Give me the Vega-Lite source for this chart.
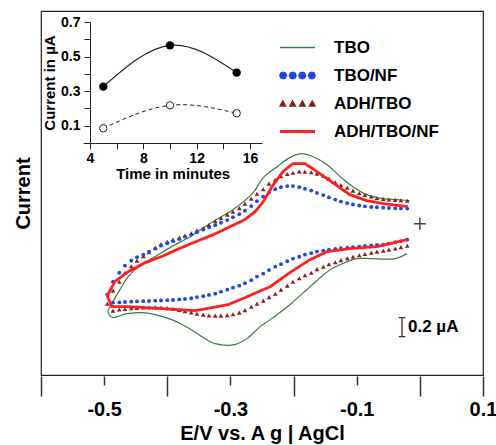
{
"$schema": "https://vega.github.io/schema/vega-lite/v6.json",
"width": 442, "height": 364,
"autosize": "none",
"padding": {"left": 41, "top": 11, "right": 13, "bottom": 70},
"background": "white",
"config": {"font": "Liberation Sans", "view": {"stroke": "#222", "strokeWidth": 1.2}, "axis": {"labelColor": "black", "titleColor": "black", "labelFont": "Liberation Sans", "titleFont": "Liberation Sans"}, "legend": {"labelFont": "Liberation Sans"}},
"datasets": {
"lines": [
{"s":"TBO","k":0,"E":-0.016,"I":0.240},{"s":"TBO","k":1,"E":-0.036,"I":0.251},{"s":"TBO","k":2,"E":-0.058,"I":0.261},{"s":"TBO","k":3,"E":-0.084,"I":0.303},{"s":"TBO","k":4,"E":-0.106,"I":0.386},{"s":"TBO","k":5,"E":-0.126,"I":0.491},{"s":"TBO","k":6,"E":-0.147,"I":0.616},{"s":"TBO","k":7,"E":-0.169,"I":0.699},{"s":"TBO","k":8,"E":-0.187,"I":0.731},{"s":"TBO","k":9,"E":-0.206,"I":0.689},{"s":"TBO","k":10,"E":-0.226,"I":0.595},{"s":"TBO","k":11,"E":-0.248,"I":0.480},{"s":"TBO","k":12,"E":-0.264,"I":0.324},{"s":"TBO","k":13,"E":-0.296,"I":0.146},{"s":"TBO","k":14,"E":-0.328,"I":0.021},{"s":"TBO","k":15,"E":-0.364,"I":-0.136},{"s":"TBO","k":16,"E":-0.393,"I":-0.240},{"s":"TBO","k":17,"E":-0.419,"I":-0.344},{"s":"TBO","k":18,"E":-0.443,"I":-0.438},{"s":"TBO","k":19,"E":-0.462,"I":-0.553},{"s":"TBO","k":20,"E":-0.475,"I":-0.689},{"s":"TBO","k":21,"E":-0.486,"I":-0.814},{"s":"TBO","k":22,"E":-0.494,"I":-0.919},{"s":"TBO","k":23,"E":-0.491,"I":-0.960},{"s":"TBO","k":24,"E":-0.486,"I":-0.981},{"s":"TBO","k":25,"E":-0.464,"I":-0.940},{"s":"TBO","k":26,"E":-0.440,"I":-0.929},{"s":"TBO","k":27,"E":-0.419,"I":-0.950},{"s":"TBO","k":28,"E":-0.393,"I":-1.002},{"s":"TBO","k":29,"E":-0.367,"I":-1.086},{"s":"TBO","k":30,"E":-0.345,"I":-1.180},{"s":"TBO","k":31,"E":-0.324,"I":-1.253},{"s":"TBO","k":32,"E":-0.293,"I":-1.263},{"s":"TBO","k":33,"E":-0.272,"I":-1.190},{"s":"TBO","k":34,"E":-0.253,"I":-1.075},{"s":"TBO","k":35,"E":-0.237,"I":-1.002},{"s":"TBO","k":36,"E":-0.206,"I":-0.846},{"s":"TBO","k":37,"E":-0.174,"I":-0.658},{"s":"TBO","k":38,"E":-0.142,"I":-0.480},{"s":"TBO","k":39,"E":-0.115,"I":-0.397},{"s":"TBO","k":40,"E":-0.100,"I":-0.365},{"s":"TBO","k":41,"E":-0.079,"I":-0.365},{"s":"TBO","k":42,"E":-0.039,"I":-0.365},{"s":"TBO","k":43,"E":-0.020,"I":-0.313},
{"s":"ADH/TBO/NF","k":0,"E":-0.019,"I":0.177},{"s":"ADH/TBO/NF","k":1,"E":-0.058,"I":0.209},{"s":"ADH/TBO/NF","k":2,"E":-0.084,"I":0.240},{"s":"ADH/TBO/NF","k":3,"E":-0.111,"I":0.303},{"s":"ADH/TBO/NF","k":4,"E":-0.138,"I":0.428},{"s":"ADH/TBO/NF","k":5,"E":-0.163,"I":0.543},{"s":"ADH/TBO/NF","k":6,"E":-0.182,"I":0.626},{"s":"ADH/TBO/NF","k":7,"E":-0.201,"I":0.626},{"s":"ADH/TBO/NF","k":8,"E":-0.217,"I":0.543},{"s":"ADH/TBO/NF","k":9,"E":-0.233,"I":0.397},{"s":"ADH/TBO/NF","k":10,"E":-0.248,"I":0.230},{"s":"ADH/TBO/NF","k":11,"E":-0.261,"I":0.125},{"s":"ADH/TBO/NF","k":12,"E":-0.277,"I":0.042},{"s":"ADH/TBO/NF","k":13,"E":-0.304,"I":-0.042},{"s":"ADH/TBO/NF","k":14,"E":-0.329,"I":-0.120},{"s":"ADH/TBO/NF","k":15,"E":-0.356,"I":-0.192},{"s":"ADH/TBO/NF","k":16,"E":-0.383,"I":-0.266},{"s":"ADH/TBO/NF","k":17,"E":-0.408,"I":-0.340},{"s":"ADH/TBO/NF","k":18,"E":-0.435,"I":-0.407},{"s":"ADH/TBO/NF","k":19,"E":-0.462,"I":-0.501},{"s":"ADH/TBO/NF","k":20,"E":-0.483,"I":-0.606},{"s":"ADH/TBO/NF","k":21,"E":-0.495,"I":-0.752},{"s":"ADH/TBO/NF","k":22,"E":-0.488,"I":-0.867},{"s":"ADH/TBO/NF","k":23,"E":-0.462,"I":-0.867},{"s":"ADH/TBO/NF","k":24,"E":-0.435,"I":-0.877},{"s":"ADH/TBO/NF","k":25,"E":-0.408,"I":-0.887},{"s":"ADH/TBO/NF","k":26,"E":-0.383,"I":-0.898},{"s":"ADH/TBO/NF","k":27,"E":-0.356,"I":-0.908},{"s":"ADH/TBO/NF","k":28,"E":-0.329,"I":-0.877},{"s":"ADH/TBO/NF","k":29,"E":-0.304,"I":-0.846},{"s":"ADH/TBO/NF","k":30,"E":-0.277,"I":-0.773},{"s":"ADH/TBO/NF","k":31,"E":-0.256,"I":-0.710},{"s":"ADH/TBO/NF","k":32,"E":-0.237,"I":-0.658},{"s":"ADH/TBO/NF","k":33,"E":-0.206,"I":-0.512},{"s":"ADH/TBO/NF","k":34,"E":-0.174,"I":-0.376},{"s":"ADH/TBO/NF","k":35,"E":-0.147,"I":-0.292},{"s":"ADH/TBO/NF","k":36,"E":-0.111,"I":-0.261},{"s":"ADH/TBO/NF","k":37,"E":-0.068,"I":-0.240},{"s":"ADH/TBO/NF","k":38,"E":-0.020,"I":-0.167}
],
"dots": [
{"s":"TBO/NF","E":-0.495,"I":-0.741},{"s":"TBO/NF","E":-0.486,"I":-0.606},{"s":"TBO/NF","E":-0.476,"I":-0.512},{"s":"TBO/NF","E":-0.467,"I":-0.438},{"s":"TBO/NF","E":-0.457,"I":-0.386},{"s":"TBO/NF","E":-0.448,"I":-0.350},{"s":"TBO/NF","E":-0.438,"I":-0.324},{"s":"TBO/NF","E":-0.429,"I":-0.292},{"s":"TBO/NF","E":-0.419,"I":-0.261},{"s":"TBO/NF","E":-0.410,"I":-0.230},{"s":"TBO/NF","E":-0.400,"I":-0.204},{"s":"TBO/NF","E":-0.391,"I":-0.183},{"s":"TBO/NF","E":-0.381,"I":-0.162},{"s":"TBO/NF","E":-0.372,"I":-0.136},{"s":"TBO/NF","E":-0.362,"I":-0.115},{"s":"TBO/NF","E":-0.353,"I":-0.089},{"s":"TBO/NF","E":-0.343,"I":-0.063},{"s":"TBO/NF","E":-0.334,"I":-0.037},{"s":"TBO/NF","E":-0.324,"I":-0.016},{"s":"TBO/NF","E":-0.315,"I":0.010},{"s":"TBO/NF","E":-0.305,"I":0.037},{"s":"TBO/NF","E":-0.296,"I":0.068},{"s":"TBO/NF","E":-0.286,"I":0.099},{"s":"TBO/NF","E":-0.277,"I":0.136},{"s":"TBO/NF","E":-0.267,"I":0.183},{"s":"TBO/NF","E":-0.258,"I":0.235},{"s":"TBO/NF","E":-0.248,"I":0.282},{"s":"TBO/NF","E":-0.239,"I":0.324},{"s":"TBO/NF","E":-0.229,"I":0.360},{"s":"TBO/NF","E":-0.220,"I":0.381},{"s":"TBO/NF","E":-0.210,"I":0.392},{"s":"TBO/NF","E":-0.201,"I":0.392},{"s":"TBO/NF","E":-0.191,"I":0.381},{"s":"TBO/NF","E":-0.182,"I":0.365},{"s":"TBO/NF","E":-0.172,"I":0.345},{"s":"TBO/NF","E":-0.163,"I":0.321},{"s":"TBO/NF","E":-0.153,"I":0.298},{"s":"TBO/NF","E":-0.144,"I":0.274},{"s":"TBO/NF","E":-0.134,"I":0.251},{"s":"TBO/NF","E":-0.125,"I":0.230},{"s":"TBO/NF","E":-0.115,"I":0.214},{"s":"TBO/NF","E":-0.106,"I":0.200},{"s":"TBO/NF","E":-0.096,"I":0.190},{"s":"TBO/NF","E":-0.087,"I":0.181},{"s":"TBO/NF","E":-0.077,"I":0.174},{"s":"TBO/NF","E":-0.068,"I":0.171},{"s":"TBO/NF","E":-0.058,"I":0.167},{"s":"TBO/NF","E":-0.049,"I":0.164},{"s":"TBO/NF","E":-0.039,"I":0.161},{"s":"TBO/NF","E":-0.030,"I":0.159},{"s":"TBO/NF","E":-0.020,"I":0.157},
{"s":"TBO/NF","E":-0.486,"I":-0.825},{"s":"TBO/NF","E":-0.476,"I":-0.822},{"s":"TBO/NF","E":-0.467,"I":-0.818},{"s":"TBO/NF","E":-0.457,"I":-0.814},{"s":"TBO/NF","E":-0.448,"I":-0.812},{"s":"TBO/NF","E":-0.438,"I":-0.809},{"s":"TBO/NF","E":-0.429,"I":-0.807},{"s":"TBO/NF","E":-0.419,"I":-0.804},{"s":"TBO/NF","E":-0.410,"I":-0.802},{"s":"TBO/NF","E":-0.400,"I":-0.799},{"s":"TBO/NF","E":-0.391,"I":-0.797},{"s":"TBO/NF","E":-0.381,"I":-0.791},{"s":"TBO/NF","E":-0.372,"I":-0.786},{"s":"TBO/NF","E":-0.362,"I":-0.779},{"s":"TBO/NF","E":-0.353,"I":-0.767},{"s":"TBO/NF","E":-0.343,"I":-0.757},{"s":"TBO/NF","E":-0.334,"I":-0.744},{"s":"TBO/NF","E":-0.324,"I":-0.731},{"s":"TBO/NF","E":-0.315,"I":-0.710},{"s":"TBO/NF","E":-0.305,"I":-0.689},{"s":"TBO/NF","E":-0.296,"I":-0.668},{"s":"TBO/NF","E":-0.286,"I":-0.647},{"s":"TBO/NF","E":-0.277,"I":-0.621},{"s":"TBO/NF","E":-0.267,"I":-0.590},{"s":"TBO/NF","E":-0.258,"I":-0.553},{"s":"TBO/NF","E":-0.248,"I":-0.522},{"s":"TBO/NF","E":-0.239,"I":-0.485},{"s":"TBO/NF","E":-0.229,"I":-0.449},{"s":"TBO/NF","E":-0.220,"I":-0.423},{"s":"TBO/NF","E":-0.210,"I":-0.392},{"s":"TBO/NF","E":-0.201,"I":-0.365},{"s":"TBO/NF","E":-0.191,"I":-0.345},{"s":"TBO/NF","E":-0.182,"I":-0.324},{"s":"TBO/NF","E":-0.172,"I":-0.308},{"s":"TBO/NF","E":-0.163,"I":-0.292},{"s":"TBO/NF","E":-0.153,"I":-0.282},{"s":"TBO/NF","E":-0.144,"I":-0.271},{"s":"TBO/NF","E":-0.134,"I":-0.264},{"s":"TBO/NF","E":-0.125,"I":-0.256},{"s":"TBO/NF","E":-0.115,"I":-0.251},{"s":"TBO/NF","E":-0.106,"I":-0.245},{"s":"TBO/NF","E":-0.096,"I":-0.240},{"s":"TBO/NF","E":-0.087,"I":-0.233},{"s":"TBO/NF","E":-0.077,"I":-0.227},{"s":"TBO/NF","E":-0.068,"I":-0.222},{"s":"TBO/NF","E":-0.058,"I":-0.219},{"s":"TBO/NF","E":-0.049,"I":-0.209},{"s":"TBO/NF","E":-0.039,"I":-0.193},{"s":"TBO/NF","E":-0.030,"I":-0.183},{"s":"TBO/NF","E":-0.020,"I":-0.167}
],
"tri": [
{"s":"ADH/TBO","E":-0.495,"I":-0.835},{"s":"ADH/TBO","E":-0.486,"I":-0.699},{"s":"ADH/TBO","E":-0.476,"I":-0.606},{"s":"ADH/TBO","E":-0.467,"I":-0.512},{"s":"ADH/TBO","E":-0.457,"I":-0.444},{"s":"ADH/TBO","E":-0.448,"I":-0.386},{"s":"ADH/TBO","E":-0.438,"I":-0.339},{"s":"ADH/TBO","E":-0.429,"I":-0.298},{"s":"ADH/TBO","E":-0.419,"I":-0.251},{"s":"ADH/TBO","E":-0.410,"I":-0.214},{"s":"ADH/TBO","E":-0.400,"I":-0.188},{"s":"ADH/TBO","E":-0.391,"I":-0.167},{"s":"ADH/TBO","E":-0.381,"I":-0.146},{"s":"ADH/TBO","E":-0.372,"I":-0.125},{"s":"ADH/TBO","E":-0.362,"I":-0.101},{"s":"ADH/TBO","E":-0.353,"I":-0.073},{"s":"ADH/TBO","E":-0.343,"I":-0.047},{"s":"ADH/TBO","E":-0.334,"I":-0.014},{"s":"ADH/TBO","E":-0.324,"I":0.026},{"s":"ADH/TBO","E":-0.315,"I":0.057},{"s":"ADH/TBO","E":-0.305,"I":0.094},{"s":"ADH/TBO","E":-0.296,"I":0.125},{"s":"ADH/TBO","E":-0.286,"I":0.162},{"s":"ADH/TBO","E":-0.277,"I":0.209},{"s":"ADH/TBO","E":-0.267,"I":0.261},{"s":"ADH/TBO","E":-0.258,"I":0.313},{"s":"ADH/TBO","E":-0.248,"I":0.360},{"s":"ADH/TBO","E":-0.239,"I":0.418},{"s":"ADH/TBO","E":-0.229,"I":0.459},{"s":"ADH/TBO","E":-0.220,"I":0.494},{"s":"ADH/TBO","E":-0.210,"I":0.519},{"s":"ADH/TBO","E":-0.201,"I":0.532},{"s":"ADH/TBO","E":-0.191,"I":0.545},{"s":"ADH/TBO","E":-0.182,"I":0.543},{"s":"ADH/TBO","E":-0.172,"I":0.536},{"s":"ADH/TBO","E":-0.163,"I":0.522},{"s":"ADH/TBO","E":-0.153,"I":0.501},{"s":"ADH/TBO","E":-0.144,"I":0.470},{"s":"ADH/TBO","E":-0.134,"I":0.433},{"s":"ADH/TBO","E":-0.125,"I":0.402},{"s":"ADH/TBO","E":-0.115,"I":0.376},{"s":"ADH/TBO","E":-0.106,"I":0.345},{"s":"ADH/TBO","E":-0.096,"I":0.318},{"s":"ADH/TBO","E":-0.087,"I":0.300},{"s":"ADH/TBO","E":-0.077,"I":0.284},{"s":"ADH/TBO","E":-0.068,"I":0.268},{"s":"ADH/TBO","E":-0.058,"I":0.258},{"s":"ADH/TBO","E":-0.049,"I":0.253},{"s":"ADH/TBO","E":-0.039,"I":0.248},{"s":"ADH/TBO","E":-0.030,"I":0.244},{"s":"ADH/TBO","E":-0.020,"I":0.240},
{"s":"ADH/TBO","E":-0.486,"I":-0.908},{"s":"ADH/TBO","E":-0.476,"I":-0.896},{"s":"ADH/TBO","E":-0.467,"I":-0.891},{"s":"ADH/TBO","E":-0.457,"I":-0.883},{"s":"ADH/TBO","E":-0.448,"I":-0.879},{"s":"ADH/TBO","E":-0.438,"I":-0.876},{"s":"ADH/TBO","E":-0.429,"I":-0.875},{"s":"ADH/TBO","E":-0.419,"I":-0.874},{"s":"ADH/TBO","E":-0.410,"I":-0.876},{"s":"ADH/TBO","E":-0.400,"I":-0.882},{"s":"ADH/TBO","E":-0.391,"I":-0.891},{"s":"ADH/TBO","E":-0.381,"I":-0.901},{"s":"ADH/TBO","E":-0.372,"I":-0.914},{"s":"ADH/TBO","E":-0.362,"I":-0.927},{"s":"ADH/TBO","E":-0.353,"I":-0.940},{"s":"ADH/TBO","E":-0.343,"I":-0.950},{"s":"ADH/TBO","E":-0.334,"I":-0.959},{"s":"ADH/TBO","E":-0.324,"I":-0.960},{"s":"ADH/TBO","E":-0.315,"I":-0.960},{"s":"ADH/TBO","E":-0.305,"I":-0.955},{"s":"ADH/TBO","E":-0.296,"I":-0.945},{"s":"ADH/TBO","E":-0.286,"I":-0.929},{"s":"ADH/TBO","E":-0.277,"I":-0.903},{"s":"ADH/TBO","E":-0.267,"I":-0.867},{"s":"ADH/TBO","E":-0.258,"I":-0.835},{"s":"ADH/TBO","E":-0.248,"I":-0.804},{"s":"ADH/TBO","E":-0.239,"I":-0.767},{"s":"ADH/TBO","E":-0.229,"I":-0.731},{"s":"ADH/TBO","E":-0.220,"I":-0.689},{"s":"ADH/TBO","E":-0.210,"I":-0.647},{"s":"ADH/TBO","E":-0.201,"I":-0.606},{"s":"ADH/TBO","E":-0.191,"I":-0.569},{"s":"ADH/TBO","E":-0.182,"I":-0.538},{"s":"ADH/TBO","E":-0.172,"I":-0.512},{"s":"ADH/TBO","E":-0.163,"I":-0.475},{"s":"ADH/TBO","E":-0.153,"I":-0.449},{"s":"ADH/TBO","E":-0.144,"I":-0.423},{"s":"ADH/TBO","E":-0.134,"I":-0.402},{"s":"ADH/TBO","E":-0.125,"I":-0.381},{"s":"ADH/TBO","E":-0.115,"I":-0.362},{"s":"ADH/TBO","E":-0.106,"I":-0.345},{"s":"ADH/TBO","E":-0.096,"I":-0.329},{"s":"ADH/TBO","E":-0.087,"I":-0.317},{"s":"ADH/TBO","E":-0.077,"I":-0.303},{"s":"ADH/TBO","E":-0.068,"I":-0.292},{"s":"ADH/TBO","E":-0.058,"I":-0.282},{"s":"ADH/TBO","E":-0.049,"I":-0.271},{"s":"ADH/TBO","E":-0.039,"I":-0.259},{"s":"ADH/TBO","E":-0.030,"I":-0.245},{"s":"ADH/TBO","E":-0.020,"I":-0.230}
],
"marks": [{"E":0,"I":0}],
"bar": [{"E":-0.0283,"I":-1.08,"label":"0.2 µA"}],
"inset": [
{"g":"f","t":5,"v":0.326},{"g":"f","t":10,"v":0.565},{"g":"f","t":15,"v":0.407},
{"g":"o","t":5,"v":0.085},{"g":"o","t":10,"v":0.218},{"g":"o","t":15,"v":0.172}
]
},
"layer": [
{
"layer": [
{
"data": {"name": "lines"},
"transform": [{"filter": "datum.s == 'TBO'"}],
"mark": {"type": "line", "interpolate": "catmull-rom", "strokeWidth": 1.2},
"encoding": {
"x": {"field": "E", "type": "quantitative", "scale": {"domain": [-0.6, 0.1], "nice": false, "zero": false},
"axis": {"values": [-0.6, -0.5, -0.4, -0.3, -0.2, -0.1, 0, 0.1],
"labelExpr": "datum.value == -0.5 ? '-0.5' : datum.value == -0.3 ? '-0.3' : datum.value == -0.1 ? '-0.1' : datum.value == 0.1 ? '0.1' : ''",
"tickSize": {"condition": {"test": "datum.value == -0.5 || datum.value == -0.3 || datum.value == -0.1", "value": 9}, "value": 20},
"labelPadding": {"condition": {"test": "datum.value == 0.1", "value": 3}, "value": 14},
"tickColor": "#333", "tickWidth": 1.5, "domain": false, "grid": false, "offset": 1,
"labelFontSize": 20, "labelFontWeight": "bold", "labelFlush": false, "labelOverlap": false,
"title": "E/V vs. A g | AgCl", "titleFontSize": 20, "titleFontWeight": "bold", "titlePadding": -7}},
"y": {"field": "I", "type": "quantitative", "scale": {"domain": [-1.58, 2.22], "nice": false, "zero": false},
"axis": {"title": "Current", "ticks": false, "labels": false, "domain": false, "grid": false, "titleFontSize": 20, "titleFontWeight": "bold", "titlePadding": 8}},
"color": {"field": "s", "type": "nominal",
"scale": {"domain": ["TBO", "TBO/NF", "ADH/TBO", "ADH/TBO/NF"], "range": ["#3b7d45", "#1f45e8", "#8b1e1e", "#ff1f1f"]},
"legend": {"orient": "none", "legendX": 248, "legendY": 28, "title": null, "padding": 0,
"symbolSize": 196, "labelOffset": 28, "rowPadding": 10,
"labelFontSize": 17, "labelFontWeight": "bold", "labelColor": "black",
"encode": {"symbols": {"update": {
"shape": {"signal": "datum.value === 'TBO/NF' ? 'M-1.58,0L-1.72,0.33L-2.05,0.47L-2.38,0.33L-2.52,0L-2.38,-0.33L-2.05,-0.47L-1.72,-0.33ZM-0.21,0L-0.35,0.33L-0.68,0.47L-1.01,0.33L-1.15,0L-1.01,-0.33L-0.68,-0.47L-0.35,-0.33ZM1.15,0L1.01,0.33L0.68,0.47L0.35,0.33L0.21,0L0.35,-0.33L0.68,-0.47L1.01,-0.33ZM2.52,0L2.38,0.33L2.05,0.47L1.72,0.33L1.58,0L1.72,-0.33L2.05,-0.47L2.38,-0.33Z' : datum.value === 'ADH/TBO' ? 'M-2.49,0.36L-2.1,-0.36L-1.71,0.36ZM-1.09,0.36L-0.7,-0.36L-0.31,0.36ZM0.31,0.36L0.7,-0.36L1.09,0.36ZM1.71,0.36L2.1,-0.36L2.49,0.36Z' : 'M-2.5,0L2.5,0'"},
"fill": {"signal": "datum.value === 'TBO/NF' ? '#1f3fc8' : datum.value === 'ADH/TBO' ? '#8b1e1e' : 'transparent'"},
"stroke": {"signal": "datum.value === 'TBO' ? '#3b7d45' : datum.value === 'ADH/TBO/NF' ? '#ff1f1f' : 'transparent'"},
"strokeWidth": {"signal": "datum.value === 'ADH/TBO/NF' ? 3 : 1.5"},
"opacity": {"value": 1}
}}}}},
"order": {"field": "k", "type": "quantitative"}
}
},
{
"data": {"name": "tri"},
"mark": {"type": "point", "shape": "triangle-up", "filled": true, "size": 22, "opacity": 1},
"encoding": {
"x": {"field": "E", "type": "quantitative"},
"y": {"field": "I", "type": "quantitative"},
"color": {"field": "s", "type": "nominal"}
}
},
{
"data": {"name": "dots"},
"mark": {"type": "point", "shape": "circle", "filled": true, "size": 15, "opacity": 1},
"encoding": {
"x": {"field": "E", "type": "quantitative"},
"y": {"field": "I", "type": "quantitative"},
"color": {"field": "s", "type": "nominal"}
}
},
{
"data": {"name": "lines"},
"transform": [{"filter": "datum.s == 'ADH/TBO/NF'"}],
"mark": {"type": "line", "interpolate": "linear", "strokeWidth": 2.8},
"encoding": {
"x": {"field": "E", "type": "quantitative"},
"y": {"field": "I", "type": "quantitative"},
"color": {"field": "s", "type": "nominal"},
"order": {"field": "k", "type": "quantitative"}
}
},
{
"data": {"name": "marks"},
"mark": {"type": "point", "shape": "M-1,0H1M0,-1V1", "size": 144, "filled": false, "color": "#444", "strokeWidth": 1.5, "opacity": 1},
"encoding": {
"x": {"field": "E", "type": "quantitative"},
"y": {"field": "I", "type": "quantitative"}
}
},
{
"data": {"name": "bar"},
"mark": {"type": "point", "shape": "M-0.35,-1H0.35M0,-1V1M-0.35,1H0.35", "size": 361, "filled": false, "color": "#333", "strokeWidth": 1.3, "opacity": 1},
"encoding": {
"x": {"field": "E", "type": "quantitative"},
"y": {"field": "I", "type": "quantitative"}
}
},
{
"data": {"name": "bar"},
"mark": {"type": "text", "align": "left", "baseline": "middle", "dx": 6, "fontSize": 17, "fontWeight": "bold", "color": "black"},
"encoding": {
"x": {"field": "E", "type": "quantitative"},
"y": {"field": "I", "type": "quantitative"},
"text": {"field": "label"}
}
}
]
},
{
"data": {"name": "inset"},
"layer": [
{
"transform": [{"filter": "datum.g == 'f'"}],
"mark": {"type": "line", "interpolate": "natural", "color": "#222", "strokeWidth": 1.2},
"encoding": {
"x": {"field": "t", "type": "quantitative", "scale": {"domain": [3.5, 16.9], "range": [42.3, 221], "nice": false, "zero": false},
"axis": {"orient": "bottom", "offset": -232, "values": [4, 6, 8, 10, 12, 14, 16], "labelExpr": "datum.value % 4 == 0 ? datum.label : ''",
"tickSize": 6, "tickColor": "#222", "domainColor": "#222", "grid": false, "labelPadding": 2, "labelFontSize": 14, "labelFontWeight": "bold", "labelFlush": false, "labelOverlap": false,
"title": "Time in minutes", "titleFontSize": 15, "titleFontWeight": "bold", "titlePadding": 1}},
"y": {"field": "v", "type": "quantitative", "scale": {"domain": [0, 0.7], "range": [132, 11], "nice": false, "zero": false},
"axis": {"orient": "left", "offset": -49, "values": [0.1, 0.2, 0.3, 0.4, 0.5, 0.6, 0.7], "format": ".1f", "labelExpr": "indexof([0.1, 0.3, 0.5, 0.7], datum.value) >= 0 ? datum.label : ''",
"tickSize": 6, "tickColor": "#222", "domainColor": "#222", "grid": false, "labelPadding": 4, "labelFontSize": 14, "labelFontWeight": "bold", "labelFlush": false, "labelOverlap": false,
"title": "Current in µA", "titleFontSize": 15, "titleFontWeight": "bold", "titlePadding": 3}}
}
},
{
"transform": [{"filter": "datum.g == 'o'"}],
"mark": {"type": "line", "interpolate": "natural", "color": "#222", "strokeWidth": 1, "strokeDash": [4, 3]},
"encoding": {
"x": {"field": "t", "type": "quantitative"},
"y": {"field": "v", "type": "quantitative"}
}
},
{
"transform": [{"filter": "datum.g == 'f'"}],
"mark": {"type": "point", "shape": "circle", "filled": true, "color": "black", "size": 70, "opacity": 1},
"encoding": {
"x": {"field": "t", "type": "quantitative"},
"y": {"field": "v", "type": "quantitative"}
}
},
{
"transform": [{"filter": "datum.g == 'o'"}],
"mark": {"type": "point", "shape": "circle", "filled": false, "fill": "white", "fillOpacity": 1, "stroke": "#222", "strokeWidth": 1, "size": 55, "opacity": 1},
"encoding": {
"x": {"field": "t", "type": "quantitative"},
"y": {"field": "v", "type": "quantitative"}
}
}
]
}
],
"resolve": {"scale": {"x": "independent", "y": "independent"}, "axis": {"x": "independent", "y": "independent"}}
}
